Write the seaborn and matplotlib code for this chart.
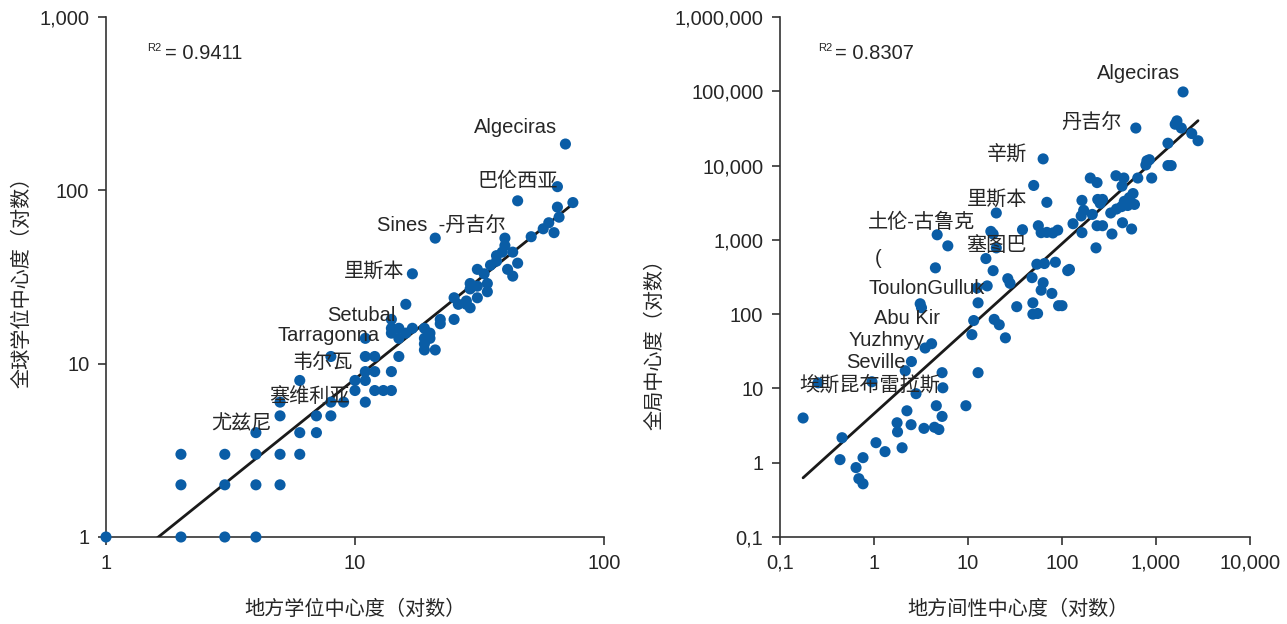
import numpy as np
import pandas as pd
import matplotlib
matplotlib.use("Agg")
import matplotlib.pyplot as plt
import seaborn as sns

# Left panel: local vs global degree centrality
deg_local = [1, 2, 3, 4, 2, 3, 4, 5, 2, 3, 4, 5, 6, 4, 6, 7, 5, 7, 8, 5,
             8, 9, 11, 6, 8, 10, 12, 13, 14, 10, 11, 11, 12, 14, 11, 12, 15, 11, 14, 14,
             15, 16, 14, 15, 16, 17, 17, 19, 19, 20, 19, 20, 21, 19, 22, 22, 21, 25, 25, 26,
             28, 29, 28, 29, 31, 29, 31, 31, 33, 34, 34, 35, 37, 37, 40, 40, 39, 43, 41, 43,
             45, 45, 51, 57, 60, 63, 66, 65, 65, 70, 75]
deg_global = [1, 1, 1, 1, 2, 2, 2, 2, 3, 3, 3, 3, 3, 4, 4, 4, 5, 5, 5, 6,
              6, 6, 6, 8, 11, 7, 7, 7, 7, 8, 8, 9, 9, 9, 11, 11, 11, 14, 18, 15,
              14, 15, 16, 16, 22, 16, 33, 16, 14, 15, 13, 14, 12, 12, 18, 17, 53, 18, 24, 22,
              22, 21, 23, 27, 24, 29, 28, 35, 33, 29, 26, 37, 42, 39, 53, 48, 44, 44, 35, 32,
              38, 87, 54, 60, 65, 57, 70, 80, 105, 185, 85]

# Right panel: local betweenness vs global centrality
btw_local = [1940, 610, 1670, 1600, 1860, 2400, 2800, 1340, 1340, 800,
             850, 780, 1450, 900, 640, 375, 455, 200, 236, 435,
             570, 520, 460, 500, 430, 240, 270, 255, 163, 69,
             63, 50, 20, 160, 170, 210, 330, 380, 590, 131,
             163, 236, 230, 270, 340, 440, 550, 56, 60, 69,
             80, 90, 38, 17.5, 18.5, 4.7, 6.1, 20, 15.5, 4.5,
             18.5, 54, 65, 85, 115, 120, 26.5, 28, 48, 63,
             60, 78, 16, 12.5, 12.8, 3.1, 3.2, 33, 49, 92,
             100, 49, 55, 11.5, 19, 21.5, 11, 25, 4.1, 3.5,
             2.5, 2.15, 5.3, 12.8, 0.254, 0.95, 5.4, 2.8, 0.176, 2.24,
             4.6, 9.5, 5.3, 1.76, 1.78, 2.48, 3.4, 4.4, 4.9, 0.457,
             1.05, 1.31, 1.99, 0.435, 0.764, 0.644, 0.69, 0.764]
btw_global = [98000, 32000, 40000, 36000, 32000, 27000, 21600, 20000, 10000, 11600,
              12000, 10200, 10000, 6800, 6800, 7300, 6800, 6800, 5900, 5300,
              4200, 3700, 3300, 2900, 2800, 3500, 3500, 3100, 3400, 3200,
              12300, 5400, 2300, 2100, 2500, 2200, 2300, 2600, 3000, 1650,
              1250, 1550, 780, 1550, 1200, 1700, 1400, 1550, 1250, 1260,
              1240, 1350, 1370, 1300, 1200, 1170, 830, 780, 560, 420,
              385, 470, 480, 500, 385, 400, 300, 260, 310, 265,
              210, 190, 240, 225, 142, 138, 122, 126, 142, 130,
              130, 100, 102, 82, 85, 72, 53, 48, 40, 35,
              23, 17.3, 16.3, 16.3, 11.9, 12.3, 10.2, 8.5, 4.0, 5.0,
              5.85, 5.85, 4.2, 3.45, 2.6, 3.25, 2.9, 3.0, 2.8, 2.17,
              1.86, 1.41, 1.59, 1.1, 1.17, 0.86, 0.61, 0.52]

left_r2 = "0.9411"
right_r2 = "0.8307"

left_xticks = [1, 10, 100]
left_xlabels = ["1", "10", "100"]
left_yticks = [1, 10, 100, 1000]
left_ylabels = ["1", "10", "100", "1,000"]
right_xticks = [0.1, 1, 10, 100, 1000, 10000]
right_xlabels = ["0,1", "1", "10", "100", "1,000", "10,000"]
right_yticks = [0.1, 1, 10, 100, 1000, 10000, 100000, 1000000]
right_ylabels = ["0,1", "1", "10", "100", "1,000", "10,000", "100,000", "1,000,000"]

# port names, placed to the left of their dots (label anchors in data units)
left_names = [
    ("Algeciras", 64.7, 229), ("巴伦西亚", 65.2, 113), ("Sines  -丹吉尔", 40.4, 63),
    ("里斯本", 15.7, 34.3), ("Setubal", 14.5, 18.9), ("Tarragonna", 12.6, 14.5),
    ("韦尔瓦", 9.8, 10.1), ("塞维利亚", 9.55, 6.43), ("尤兹尼", 4.64, 4.49),
]
right_names = [
    ("Algeciras", 1800, 172000), ("丹吉尔", 435, 37700), ("辛斯", 42.4, 14400),
    ("里斯本", 42.4, 3470), ("土伦-古鲁克", 11.9, 1700), ("塞图巴", 42.4, 833),
    ("ToulonGulluk", 15.2, 220), ("Abu Kir", 5.04, 86.7), ("Yuzhnyy", 3.49, 43.9),
    ("Seville", 2.19, 22.2), ("埃斯昆布雷拉斯", 5.04, 11.2),
]

sns.set_theme(style="ticks")
plt.rcParams["font.family"] = ["Liberation Sans", "Noto Sans CJK SC", "DejaVu Sans"]

DOT = "#0a5da6"
TXT = "#262626"
FS = 14.5

fig = plt.figure(figsize=(12.87, 6.24), dpi=100)
ax1 = fig.add_axes([106 / 1287, 87 / 624, 498 / 1287, 520 / 624])
ax2 = fig.add_axes([780 / 1287, 87 / 624, 470 / 1287, 520 / 624])


def panel(ax, xs, ys, xlim, ylim, xt, xl, yt, yl, names, r2, xlabel, ylabel):
    df = pd.DataFrame({"x": xs, "y": ys})
    ax.set_xscale("log")
    ax.set_yscale("log")
    # log-log least squares trend line across the observed x range
    b, a = np.polyfit(np.log10(df["x"]), np.log10(df["y"]), 1)
    xfit = np.array([df["x"].min(), df["x"].max()])
    yfit = 10 ** (a + b * np.log10(xfit))
    ax.plot(xfit, yfit, color="#1a1a1a", lw=2.0, zorder=3)
    sns.scatterplot(data=df, x="x", y="y", ax=ax, color=DOT, s=64,
                    edgecolor="none", linewidth=0, clip_on=False, zorder=4)
    ax.set_xlim(*xlim)
    ax.set_ylim(*ylim)
    ax.xaxis.set_major_locator(matplotlib.ticker.FixedLocator(xt))
    ax.yaxis.set_major_locator(matplotlib.ticker.FixedLocator(yt))
    ax.xaxis.set_minor_locator(matplotlib.ticker.NullLocator())
    ax.yaxis.set_minor_locator(matplotlib.ticker.NullLocator())
    ax.set_xticklabels(xl)
    ax.set_yticklabels(yl)
    ax.tick_params(axis="both", labelsize=FS, colors="#333333", labelcolor=TXT,
                   length=6, width=1.2, direction="out", pad=6)
    for side in ("top", "right"):
        ax.spines[side].set_visible(False)
    for side in ("left", "bottom"):
        ax.spines[side].set_color("#333333")
        ax.spines[side].set_linewidth(1.2)
    ax.set_xlabel(xlabel, fontsize=FS, color=TXT, va="center", ha="center")
    ax.set_ylabel(ylabel, fontsize=FS, color=TXT, va="center", ha="center")
    for name, tx, ty in names:
        ax.text(tx, ty, name, ha="right", va="center", fontsize=FS, color=TXT, zorder=5)
    ax.text(0.082, 0.94, "R2", transform=ax.transAxes, fontsize=8, color=TXT,
            ha="left", va="center")
    ax.text(0.118, 0.93, "= " + r2, transform=ax.transAxes, fontsize=FS, color=TXT,
            ha="left", va="center")
    ax.set_facecolor("white")


panel(ax1, deg_local, deg_global, (1, 100), (1, 1000),
      left_xticks, left_xlabels, left_yticks, left_ylabels,
      left_names, left_r2, "地方学位中心度（对数）", "全球学位中心度（对数）")
panel(ax2, btw_local, btw_global, (0.1, 10000), (0.1, 1000000),
      right_xticks, right_xlabels, right_yticks, right_ylabels,
      right_names, right_r2, "地方间性中心度（对数）", "全局中心度（对数）")
ax2.text(1.1, 557, "(", ha="center", va="center", fontsize=FS, color=TXT)

ax1.xaxis.set_label_coords(0.5, -0.14)
ax1.yaxis.set_label_coords(-0.169, 0.5)
ax2.xaxis.set_label_coords(0.506, -0.14)
ax2.yaxis.set_label_coords(-0.266, 0.379)

fig.savefig("out.png", dpi=100, facecolor="white")
